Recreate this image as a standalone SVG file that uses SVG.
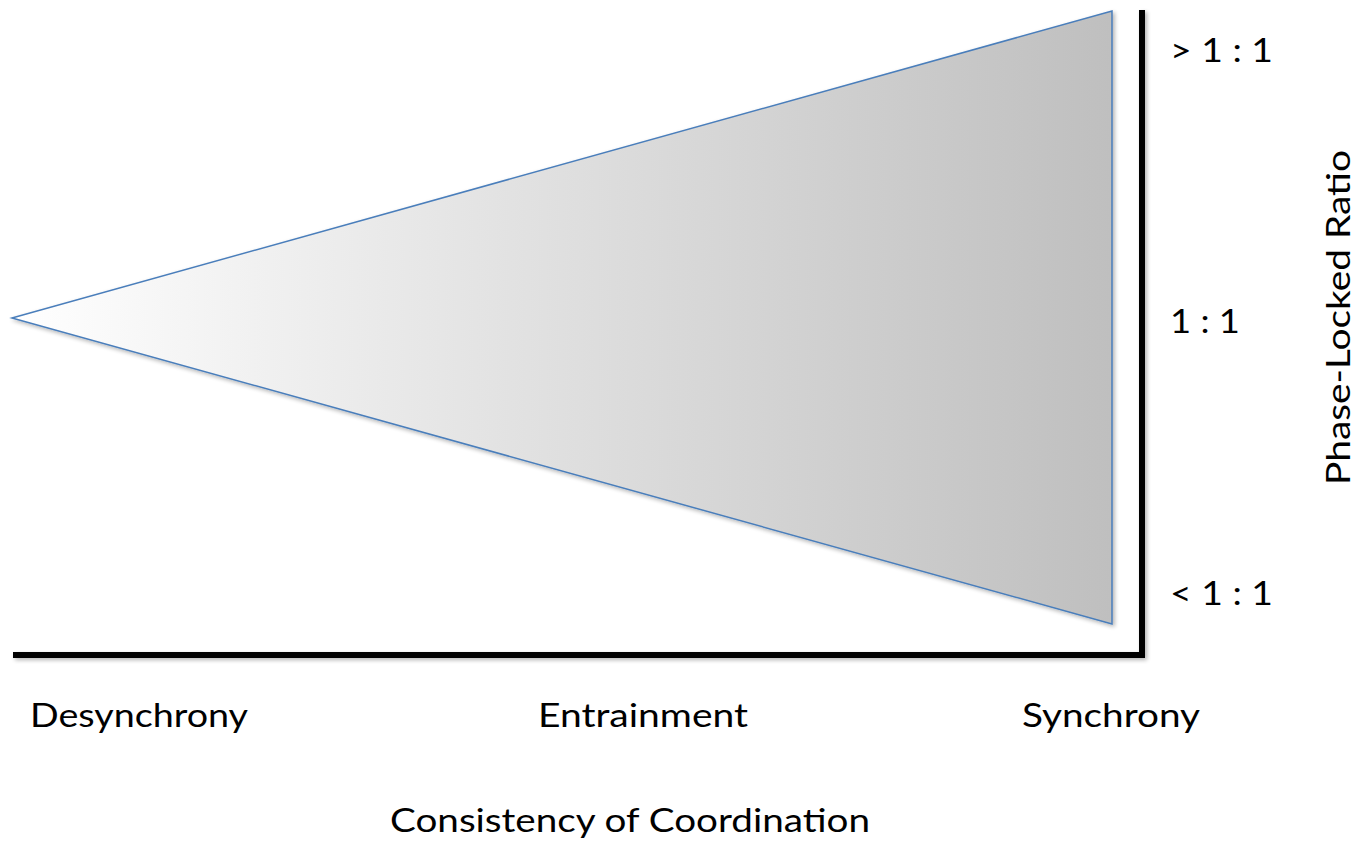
<svg xmlns="http://www.w3.org/2000/svg" width="1370" height="844" viewBox="0 0 1370 844">
<style>
text{font-family:Lato,"Open Sans",sans-serif;fill:#000;font-size:32px}
.axis{stroke:#000;stroke-width:6;fill:none}
</style>
<defs>
<linearGradient id="g" x1="12" y1="0" x2="1112" y2="0" gradientUnits="userSpaceOnUse">
<stop offset="0" stop-color="#ffffff"/>
<stop offset="1" stop-color="#bfbfbf"/>
</linearGradient>
<filter id="sh" x="-5%" y="-5%" width="110%" height="110%">
<feGaussianBlur in="SourceAlpha" stdDeviation="2"/>
<feOffset dx="2" dy="2"/>
<feComponentTransfer><feFuncA type="linear" slope="0.3"/></feComponentTransfer>
<feMerge><feMergeNode/><feMergeNode in="SourceGraphic"/></feMerge>
</filter>
</defs>
<g id="wedge">
<polygon points="12,318 1112,11 1112,624" fill="url(#g)" stroke="#4a7ebb" stroke-width="1.5" stroke-linejoin="miter" filter="url(#sh)"/>
</g>
<g id="axes" filter="url(#sh)">
<polyline class="axis" points="13,655 1142,655 1142,10"/>
</g>
<g id="labels">
<text x="1170" y="62" textLength="103" lengthAdjust="spacingAndGlyphs">&gt; 1 : 1</text>
<text x="1170" y="333" textLength="70" lengthAdjust="spacingAndGlyphs">1 : 1</text>
<text x="1170" y="605" textLength="103" lengthAdjust="spacingAndGlyphs">&lt; 1 : 1</text>
<text transform="translate(1350,485) rotate(-90)" textLength="335" lengthAdjust="spacingAndGlyphs">Phase-Locked Ratio</text>
<text x="30" y="727" textLength="218" lengthAdjust="spacingAndGlyphs">Desynchrony</text>
<text x="538" y="727" textLength="210" lengthAdjust="spacingAndGlyphs">Entrainment</text>
<text x="1022" y="727" textLength="178" lengthAdjust="spacingAndGlyphs">Synchrony</text>
<text x="390" y="832" textLength="480" lengthAdjust="spacingAndGlyphs">Consistency of Coordination</text>
</g>
</svg>
